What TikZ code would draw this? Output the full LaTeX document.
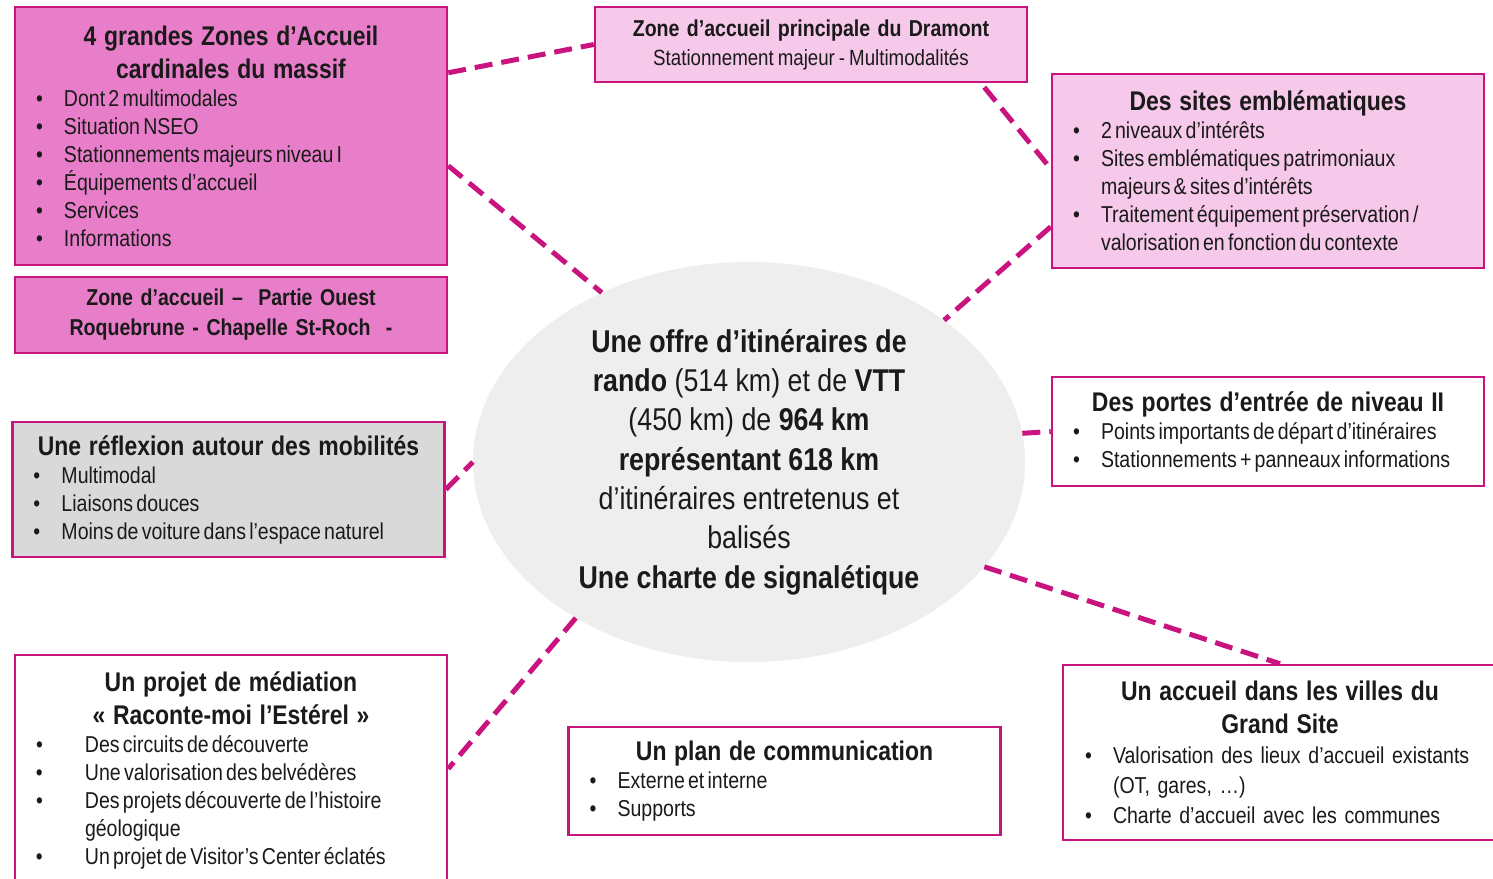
\documentclass[tikz,border=0pt]{standalone}
\usepackage{fontspec}
\setmainfont{Liberation Sans}[FakeStretch=0.85]
\usepackage{xcolor}
\usetikzlibrary{shapes.geometric}

\definecolor{rosefonce}{HTML}{C9147F}
\definecolor{rosevif}{HTML}{E87EC9}
\definecolor{rosepale}{HTML}{F6C8E9}
\definecolor{grisbox}{HTML}{D9D9D9}
\definecolor{grisovale}{HTML}{EEEEEE}
\definecolor{texte}{HTML}{1A1A1A}

\newcommand{\titre}[1]{{\centering\fontsize{27}{33}\selectfont\bfseries #1\par}}
\newcommand{\serre}{\spaceskip=0.14em plus 0.05em minus 0.02em}
\newcommand{\itm}[2][28pt]{{\raggedright\serre\hangindent=#1\hangafter=1\noindent\makebox[#1][l]{\textbullet}#2\par}}

\begin{document}
\begin{tikzpicture}[x=1pt,y=-1pt,
    zone/.style={draw=rosefonce, line width=2.5pt, text=texte, inner xsep=21pt, inner ysep=0pt,
      minimum width=432pt, text width=390pt, font=\fontsize{23}{28}\selectfont},
    lien/.style={draw=rosefonce, line width=5pt, dash pattern=on 18pt off 9pt}]
    \fill[white] (0,0) rectangle (1493,878);
    \useasboundingbox (0,0) rectangle (1493,878);

    \node[ellipse, fill=grisovale, minimum width=552pt, minimum height=400pt, inner sep=0pt,
      align=center, text=texte, font=\fontsize{31.5}{39.3}\selectfont] (ell) at (749,462)
      {{\bfseries Une offre d’itinéraires de}\\
       {\bfseries rando} (514 km) et de {\bfseries VTT}\\
       (450 km) de {\bfseries 964 km}\\
       {\bfseries représentant 618 km}\\
       d’itinéraires entretenus et\\
       balisés\\
       {\bfseries Une charte de signalétique}};

    \node[zone, fill=rosevif, minimum height=258pt] (A) at (231,136)
      {\titre{4 grandes Zones d’Accueil\\cardinales du massif}
       \itm{Dont 2 multimodales}
       \itm{Situation NSEO}
       \itm{Stationnements majeurs niveau I}
       \itm{Équipements d’accueil}
       \itm{Services}
       \itm{Informations}};
    \node[zone, fill=rosevif, minimum height=76pt, align=center, font=\fontsize{23}{30}\selectfont\bfseries] (B) at (231,315)
      {Zone d’accueil –~~Partie Ouest\\Roquebrune - Chapelle St-Roch~~-};
    \node[zone, fill=rosepale, minimum width=430pt, minimum height=75pt, align=center, font=\fontsize{22}{29}\selectfont] (C) at (811,44.5)
      {{\fontsize{23}{29}\selectfont\bfseries Zone d’accueil principale du Dramont}\\{\serre Stationnement majeur - Multimodalités}};
    \node[zone, fill=rosepale, minimum height=194pt] (D) at (1268,171)
      {\titre{Des sites emblématiques}
       \itm{2 niveaux d’intérêts}
       \itm{Sites emblématiques patrimoniaux majeurs \& sites d’intérêts}
       \itm{Traitement équipement préservation / valorisation en fonction du contexte}};
    \node[zone, fill=grisbox, minimum width=431pt, minimum height=135pt] (E) at (228.5,489.5)
      {\titre{Une réflexion autour des mobilités}
       \itm{Multimodal}
       \itm{Liaisons douces}
       \itm{Moins de voiture dans l’espace naturel}};
    \node[zone, fill=white, minimum height=109pt] (F) at (1268,431.5)
      {\titre{Des portes d’entrée de niveau II}
       \itm{Points importants de départ d’itinéraires}
       \itm{Stationnements + panneaux informations}};
    \node[zone, fill=white, minimum height=230pt] (G) at (231,770)
      {\titre{Un projet de médiation\\« Raconte-moi l’Estérel »}
       \itm[49pt]{Des circuits de découverte}
       \itm[49pt]{Une valorisation des belvédères}
       \itm[49pt]{Des projets découverte de l’histoire géologique}
       \itm[49pt]{Un projet de Visitor’s Center éclatés}};
    \node[zone, fill=white, minimum width=431pt, minimum height=108pt] (H) at (784.5,781)
      {\titre{Un plan de communication}
       \itm{Externe et interne}
       \itm{Supports}};
    \node[zone, fill=white, minimum width=434pt, minimum height=175pt, font=\fontsize{23}{30}\selectfont] (I) at (1280,752.5)
      {\let\serre\relax
       \titre{Un accueil dans les villes du\\Grand Site}
       \itm{Valorisation des lieux d’accueil existants (OT, gares, …)}
       \itm{Charte d’accueil avec les communes}};

    \draw[lien] ([yshift=-67pt]A.north east) -- (C.west);
    \draw[lien] ([yshift=-160pt]A.north east) -- (ell.131);
    \draw[lien] ([xshift=-44pt,yshift=-4pt]C.south east) -- ([yshift=-96pt]D.north west);
    \draw[lien] ([yshift=-154pt]D.north west) -- (ell.36);
    \draw[lien] (ell.6) -- (F.west);
    \draw[lien] (E.east) -- (ell.west);
    \draw[lien] (ell.-24) -- (I.north);
    \draw[lien] (ell.222) -- ([yshift=-115pt]G.north east);
\end{tikzpicture}
\end{document}
